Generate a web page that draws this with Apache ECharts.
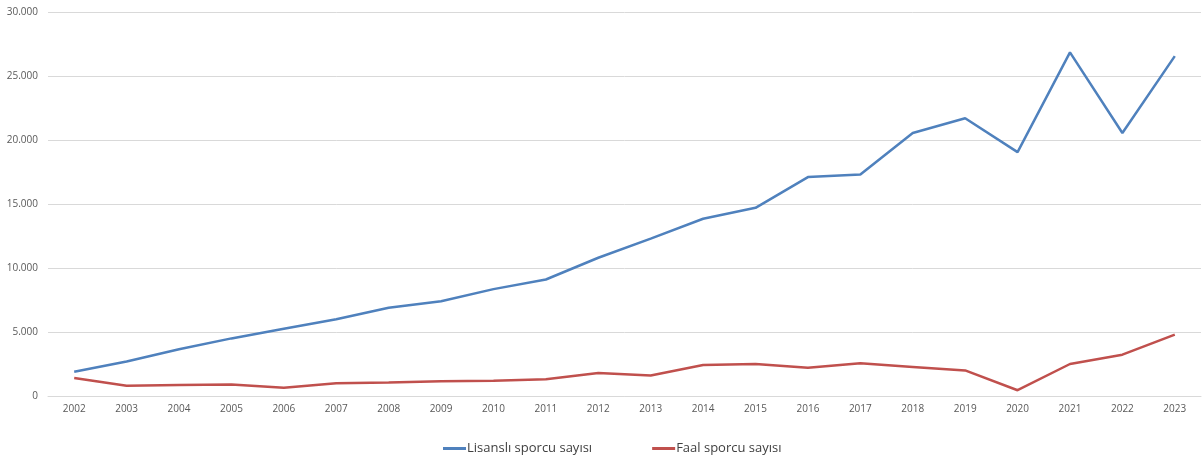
<!DOCTYPE html>
<html>
<head>
<meta charset="utf-8">
<script src="https://cdn.jsdelivr.net/npm/echarts@6/dist/echarts.min.js"></script>
<style>html,body{margin:0;padding:0;background:#fff;}#c{width:1203px;height:460px;}</style>
</head>
<body>
<div id="c"></div>
<script>
const years = ['2002','2003','2004','2005','2006','2007','2008','2009','2010','2011','2012','2013','2014','2015','2016','2017','2018','2019','2020','2021','2022','2023'];
const licensed = [1900,2700,3650,4500,5250,6000,6900,7400,8350,9100,10800,12300,13850,14700,17100,17300,20550,21700,19050,26850,20550,26550];
const active = [1400,800,850,900,650,1000,1050,1150,1200,1300,1800,1600,2420,2500,2200,2550,2270,2000,450,2500,3230,4800];
const seriesNames = ['Lisanslı sporcu sayısı','Faal sporcu sayısı'];

function fmt(v){ return String(v).replace(/\B(?=(\d{3})+(?!\d))/g,'.'); }

const chart = echarts.init(document.getElementById('c'));
chart.setOption({
  animation:false,
  textStyle:{fontFamily:'"Open Sans", "Liberation Sans", sans-serif'},
  grid:{left:48,right:2,top:12,bottom:64},
  legend:{
    top:437,left:438,itemGap:60,itemWidth:23,itemHeight:3,
    icon:'rect',
    textStyle:{fontSize:13,color:'#404040',padding:[0,0,0,-4]},
    data:seriesNames
  },
  xAxis:{
    type:'category',data:years,boundaryGap:true,
    axisLine:{show:true,lineStyle:{color:'#d9d9d9'}},
    axisTick:{show:false},
    axisLabel:{fontSize:10,color:'#595959',margin:8}
  },
  yAxis:{
    type:'value',min:0,max:30000,interval:5000,
    axisLine:{show:false},axisTick:{show:false},
    splitLine:{lineStyle:{color:'#d9d9d9'}},
    axisLabel:{fontSize:10,color:'#595959',margin:10,formatter:fmt}
  },
  series:[
    {name:seriesNames[0],type:'line',data:licensed,symbol:'none',lineStyle:{width:2.5,color:'#4F81BD'},itemStyle:{color:'#4F81BD'}},
    {name:seriesNames[1],type:'line',data:active,symbol:'none',lineStyle:{width:2.5,color:'#C0504D'},itemStyle:{color:'#C0504D'}}
  ]
});
</script>
</body>
</html>
